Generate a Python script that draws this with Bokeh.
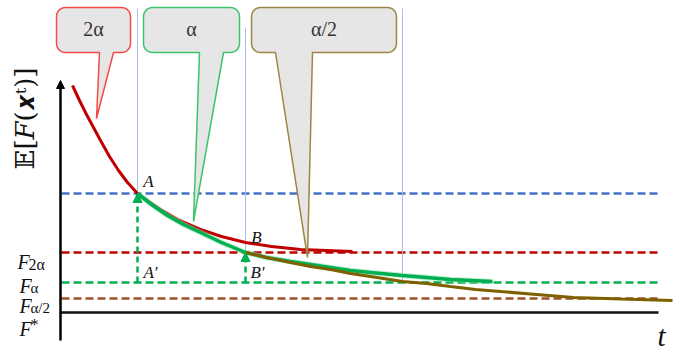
import numpy as np
from bokeh.plotting import figure
from bokeh.models import Range1d, Label, Arrow, NormalHead
from bokeh.embed import file_html
from bokeh.resources import INLINE

# ---------------- data (t = time, F = objective value) ----------------
level_names = ["A", "F2a", "Fa", "Fa2", "Fstar"]
level_values = [119, 60, 30, 14, 0]
t_end = 597

red_t = [11, 18, 25, 32, 39, 48, 57, 66, 76, 87, 99, 118, 139, 160, 184, 210, 239, 265, 291]
red_F = [227, 212, 198, 185, 172, 156, 142, 130, 119, 111, 103, 92, 83, 76, 70, 66, 63, 62, 61]

green_t = [76, 90, 106, 122, 139, 160, 184, 205, 229, 249, 269, 289, 309, 341, 365, 389, 410, 431]
green_F = [119, 108, 97, 88, 80, 70, 60, 55, 51, 48, 45, 42, 40, 37, 35, 33, 32, 31]

brown_t = [184, 205, 229, 249, 269, 289, 309, 341, 365, 389, 414, 439, 475, 512, 559, 611]
brown_F = [60, 55, 50, 46, 43, 39, 36, 31, 29, 26, 23, 21, 18, 15, 13.5, 12]

switch_t = [76, 184, 341]          # step-size switching times
switch_F = [119, 60, 30]           # value reached at each switch
callout_labels = ["2α", "α", "α/2"]

# ---------------- figure ----------------
W, H = 673, 350
p = figure(width=W, height=H, output_backend="svg", toolbar_location=None,
           x_range=Range1d(-61, 612), y_range=Range1d(-38, 312),
           min_border=0, min_border_left=0, min_border_right=0,
           min_border_top=0, min_border_bottom=0)
p.axis.visible = False
p.grid.visible = False
p.outline_line_color = None
p.background_fill_color = "white"

SERIF = "Liberation Serif"

# horizontal dashed levels
dash_colors = ["#4472C4", "#C00000", "#00B050", "#A0522D"]
for v, c in zip(level_values[:4], dash_colors):
    p.line([0, t_end], [v, v], line_color=c, line_width=2.5, line_dash="8 4")

# thin vertical lines at switch times
tops = [304, 285, 304]
for t, f, top in zip(switch_t, switch_F, tops):
    p.line([t, t], [f, top], line_color="#A9BEE6", line_width=1)

# curves
p.line(red_t, red_F, line_color="#C00000", line_width=3)
p.line(green_t, green_F, line_color="#8FE0AE", line_width=5.5, line_alpha=0.5)
p.line(green_t, green_F, line_color="#00B050", line_width=3.5)
p.line(brown_t, brown_F, line_color="#7F6000", line_width=3)

# green dashed arrows A' -> A and B' -> B
for t, f in zip(switch_t[:2], switch_F[:2]):
    p.add_layout(Arrow(end=NormalHead(size=9, fill_color="#00B050", line_color="#00B050"),
                       x_start=t, y_start=level_values[2], x_end=t, y_end=f,
                       line_color="#00B050", line_width=2.5, line_dash="6 4"))

# axes
p.line([-1, t_end], [0, 0], line_color="#111111", line_width=2.5)
p.add_layout(Arrow(end=NormalHead(size=8, fill_color="black", line_color="black"),
                   x_start=-1, y_start=-28, x_end=-1, y_end=232,
                   line_color="black", line_width=2.5))

# callouts
def callout(left, right, bottom, top, b1, b2, tip, r=9):
    xs, ys = [], []
    def arc(cx, cy, a0, a1):
        a = np.linspace(a0, a1, 8)
        xs.extend(cx + r * np.cos(a)); ys.extend(cy + r * np.sin(a))
    arc(right - r, top - r, np.pi / 2, 0)
    arc(right - r, bottom + r, 0, -np.pi / 2)
    xs.extend([b2, tip[0], b1]); ys.extend([bottom, tip[1], bottom])
    arc(left + r, bottom + r, -np.pi / 2, -np.pi)
    arc(left + r, top - r, np.pi, np.pi / 2)
    return xs, ys

boxes = [(-5, 69, 260, 305, 38, 52, (35, 194), "#F24A4A"),
         (82, 178, 260, 305, 138, 162, (132, 91), "#3CC46A"),
         (190, 335, 260, 305, 214, 251, (246, 55), "#9C8545")]
for (l, r_, b, t, b1, b2, tip, col), lab in zip(boxes, callout_labels):
    xs, ys = callout(l, r_, b, t, b1, b2, tip)
    p.patch(xs, ys, fill_color="#E7E6E6", line_color=col, line_width=1.5)
    p.add_layout(Label(x=(l + r_) / 2, y=(b + t) / 2 + 1, text=lab, text_align="center",
                       text_baseline="middle", text_font=SERIF, text_font_size="20px",
                       text_color="#333333"))

# point labels
for x, y, s in [(87, 131, "A"), (195, 75, "B"), (89, 40, "A′"), (196, 40, "B′")]:
    p.add_layout(Label(x=x, y=y, text=s, text_align="center", text_baseline="middle",
                       text_font=SERIF, text_font_style="italic", text_font_size="17px",
                       text_color="#111111"))

# level labels on the left
def lev(x, y, sub, sy, size="15px"):
    p.add_layout(Label(x=x, y=y, text="F", text_font=SERIF, text_font_style="italic",
                       text_font_size="20px", text_color="#111111", text_baseline="alphabetic"))
    p.add_layout(Label(x=x + 11, y=sy, text=sub, text_font=SERIF,
                       text_font_size=size, text_color="#111111", text_baseline="alphabetic"))

lev(-44, 51, "2α", 48, "16px")
lev(-42, 27, "α", 25)
lev(-42, 7, "α/2", 5)
lev(-42, -16, "*", -12, "16px")

# axis titles
p.add_layout(Label(x=596, y=-23, text="t", text_font=SERIF, text_font_style="italic",
                   text_font_size="29px", text_color="#111111", text_baseline="alphabetic"))
p.add_layout(Label(x=-37, y=194, text="𝔼[𝐹(𝒙ᵗ)]", angle=np.pi / 2, text_align="center",
                   text_baseline="middle", text_font="DejaVu Serif", text_font_size="26px",
                   text_color="#111111"))

open("out.html", "w").write(file_html(p, INLINE))
